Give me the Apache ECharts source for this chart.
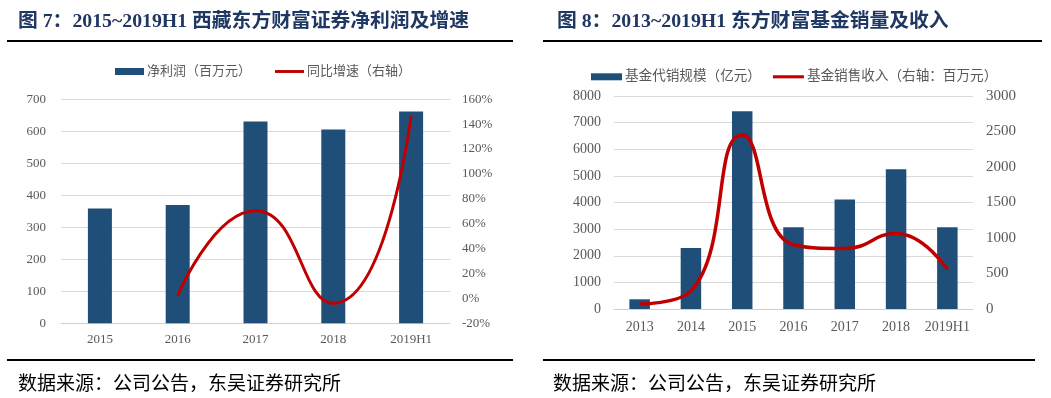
<!DOCTYPE html>
<html>
<head>
<meta charset="utf-8">
<script src="https://cdn.jsdelivr.net/npm/echarts@6/dist/echarts.min.js"></script>
<style>
html,body{margin:0;padding:0;background:#fff;}
#main{width:1051px;height:398px;}
</style>
</head>
<body>
<div id="main"></div>
<script>
// Chart 7 data
const cats1 = ['2015', '2016', '2017', '2018', '2019H1'];
const netProfit = [359, 370, 631, 606, 662];
const growthPct = [null, 2.2, 70.5, -4, 146.6];
// Chart 8 data
const cats2 = ['2013', '2014', '2015', '2016', '2017', '2018', '2019H1'];
const fundSales = [364, 2287, 7425, 3075, 4113, 5250, 3075];
const fundRevenue = [70, 255, 2450, 905, 853, 1064, 558];

const title1 = '图 7：2015~2019H1 西藏东方财富证券净利润及增速';
const title2 = '图 8：2013~2019H1 东方财富基金销量及收入';
const sourceText = '数据来源：公司公告，东吴证券研究所';

const BAR = '#1f4e79';
const RED = '#c00000';
const GRAY = '#595959';
const GRID = '#d9d9d9';
const SERIF = '"Liberation Serif", "Times New Roman", "Noto Sans CJK SC", serif';
const CJK = '"Liberation Serif", "Noto Sans CJK SC", sans-serif';
const LINE_ICON = 'path://M0,0 L40,0 L40,4 L0,4 Z';

const chart = echarts.init(document.getElementById('main'), null, {renderer: 'canvas'});

function xAx(gi, data, fs, margin) {
  return {
    type: 'category', gridIndex: gi, data: data,
    axisLine: {show: true, lineStyle: {color: '#d0d0d0', width: 1}},
    axisTick: {show: false},
    axisLabel: {color: GRAY, fontSize: fs, fontFamily: SERIF, margin: margin, interval: 0}
  };
}
function yAx(gi, pos, min, max, interval, fs, margin, split, fmt) {
  return {
    type: 'value', gridIndex: gi, position: pos, min: min, max: max, interval: interval,
    axisLine: {show: false}, axisTick: {show: false},
    splitLine: {show: split, lineStyle: {color: GRID, width: 1}},
    axisLabel: {color: GRAY, fontSize: fs, fontFamily: SERIF, margin: margin,
      formatter: fmt || function (v) { return String(v); }}
  };
}

const option = {
  animation: false,
  backgroundColor: '#fff',
  grid: [
    {left: 61, top: 99.3, width: 389, height: 224, containLabel: false},
    {left: 614, top: 96, width: 359, height: 213, containLabel: false}
  ],
  legend: [
    {
      data: [{name: '净利润（百万元）', icon: 'rect'}, {name: '同比增速（右轴）', icon: LINE_ICON}],
      left: 115, top: 65, itemGap: 24, itemWidth: 29, itemHeight: 7, padding: 0,
      textStyle: {color: GRAY, fontSize: 13, fontFamily: CJK, padding: [0, 0, 0, -2]}
    },
    {
      data: [{name: '基金代销规模（亿元）', icon: 'rect'}, {name: '基金销售收入（右轴：百万元）', icon: LINE_ICON}],
      left: 591, top: 70, itemGap: 12, itemWidth: 31, itemHeight: 7, padding: 0,
      textStyle: {color: GRAY, fontSize: 13.6, fontFamily: CJK, padding: [0, 0, 0, -2]}
    }
  ],
  xAxis: [xAx(0, cats1, 13, 10), xAx(1, cats2, 14, 11)],
  yAxis: [
    yAx(0, 'left', 0, 700, 100, 13, 15, true),
    yAx(0, 'right', -20, 160, 20, 13, 12, false, '{value}%'),
    yAx(1, 'left', 0, 8000, 1000, 14, 13, true),
    yAx(1, 'right', 0, 3000, 500, 15, 13, false)
  ],
  series: [
    {
      name: '净利润（百万元）', type: 'bar', xAxisIndex: 0, yAxisIndex: 0,
      data: netProfit, barWidth: 24, itemStyle: {color: BAR}
    },
    {
      name: '同比增速（右轴）', type: 'line', xAxisIndex: 0, yAxisIndex: 1,
      data: growthPct, smooth: 0.55, symbol: 'none', showSymbol: false,
      lineStyle: {color: RED, width: 3}, itemStyle: {color: RED}
    },
    {
      name: '基金代销规模（亿元）', type: 'bar', xAxisIndex: 1, yAxisIndex: 2,
      data: fundSales, barWidth: 20.5, itemStyle: {color: BAR}
    },
    {
      name: '基金销售收入（右轴：百万元）', type: 'line', xAxisIndex: 1, yAxisIndex: 3,
      data: fundRevenue, smooth: 0.5, symbol: 'none', showSymbol: false,
      lineStyle: {color: RED, width: 3.5}, itemStyle: {color: RED}
    }
  ],
  graphic: [
    {type: 'text', left: 18, top: 12, style: {text: title1, fill: '#1f3763', font: 'bold 19.8px ' + CJK}},
    {type: 'text', left: 557, top: 12, style: {text: title2, fill: '#1f3763', font: 'bold 19.8px ' + CJK}},
    {type: 'line', shape: {x1: 7, y1: 41, x2: 513, y2: 41}, style: {stroke: '#000', lineWidth: 2}},
    {type: 'line', shape: {x1: 543, y1: 41, x2: 1042, y2: 41}, style: {stroke: '#000', lineWidth: 2}},
    {type: 'line', shape: {x1: 7, y1: 360, x2: 513, y2: 360}, style: {stroke: '#000', lineWidth: 2}},
    {type: 'line', shape: {x1: 543, y1: 360, x2: 1035, y2: 360}, style: {stroke: '#000', lineWidth: 2}},
    {type: 'text', left: 18, top: 376, style: {text: sourceText, fill: '#000', font: '19px ' + CJK}},
    {type: 'text', left: 553, top: 376, style: {text: sourceText, fill: '#000', font: '19px ' + CJK}}
  ]
};
chart.setOption(option);
</script>
</body>
</html>
